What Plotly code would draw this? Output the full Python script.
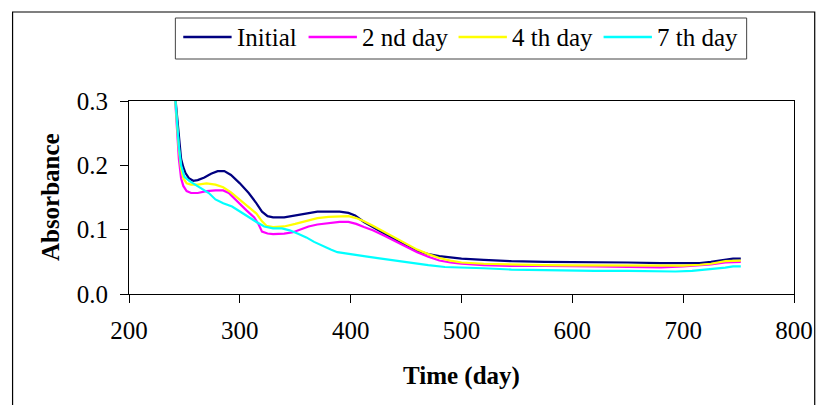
import plotly.graph_objects as go

# ---- data ----
series_names = ["Initial", "2 nd day", "4 th day", "7 th day"]
series_colors = ["#000080", "#FF00FF", "#FFFF00", "#00FFFF"]

initial_x = [241, 243, 245, 247, 249, 251, 254, 258, 262, 268, 274, 280, 286, 292, 300, 308, 315, 320, 325, 330,
             340, 350, 360, 370, 380, 390, 398, 404, 412, 420, 430, 440, 450, 460, 470, 480, 490, 500, 520, 545,
             575, 600, 620, 650, 680, 700, 715, 725, 738, 745, 752]
initial_y = [0.32, 0.28, 0.24, 0.21, 0.197, 0.188, 0.180, 0.176, 0.177, 0.181, 0.187, 0.191, 0.191, 0.185, 0.172,
             0.157, 0.141, 0.128, 0.121, 0.119, 0.119, 0.122, 0.125, 0.128, 0.128, 0.128, 0.126, 0.122, 0.112,
             0.104, 0.094, 0.084, 0.075, 0.067, 0.062, 0.059, 0.057, 0.055, 0.053, 0.051, 0.050, 0.050, 0.0495,
             0.049, 0.048, 0.0475, 0.048, 0.050, 0.054, 0.055, 0.055]

day2_x = [241, 243, 245, 247, 249, 252, 256, 262, 270, 278, 285, 290, 298, 306, 313, 317, 320, 325, 330, 340,
          348, 355, 362, 370, 380, 390, 398, 405, 412, 420, 430, 440, 450, 460, 470, 480, 490, 500, 520, 545,
          575, 600, 620, 650, 680, 700, 715, 725, 738, 745, 752]
day2_y = [0.32, 0.26, 0.21, 0.18, 0.168, 0.160, 0.157, 0.157, 0.160, 0.161, 0.161, 0.157, 0.143, 0.130, 0.119,
          0.108, 0.097, 0.094, 0.093, 0.094, 0.096, 0.100, 0.105, 0.108, 0.110, 0.112, 0.112, 0.109, 0.104,
          0.099, 0.091, 0.082, 0.073, 0.065, 0.058, 0.052, 0.049, 0.047, 0.045, 0.0435, 0.0435, 0.0435, 0.043,
          0.042, 0.0415, 0.043, 0.0445, 0.046, 0.049, 0.050, 0.050]

day4_x = [241, 243, 245, 247, 249, 252, 256, 262, 270, 278, 285, 292, 300, 308, 315, 320, 324, 330, 340, 350,
          360, 370, 380, 390, 398, 405, 412, 420, 430, 440, 450, 460, 470, 480, 490, 500, 520, 545, 575, 600,
          620, 650, 680, 700, 715, 725, 738, 745, 752]
day4_y = [0.32, 0.27, 0.225, 0.195, 0.180, 0.172, 0.170, 0.170, 0.172, 0.170, 0.166, 0.158, 0.147, 0.136, 0.125,
          0.113, 0.106, 0.104, 0.105, 0.109, 0.114, 0.118, 0.120, 0.121, 0.121, 0.118, 0.113, 0.106, 0.097,
          0.087, 0.078, 0.069, 0.062, 0.056, 0.052, 0.049, 0.047, 0.0456, 0.045, 0.0446, 0.0446, 0.0443, 0.044,
          0.044, 0.0455, 0.047, 0.051, 0.052, 0.052]

day7_x = [241, 243, 245, 247, 250, 255, 260, 266, 272, 278, 285, 293, 300, 308, 315, 322, 330, 338, 345, 352,
          360, 367, 375, 382, 388, 395, 405, 415, 426, 440, 456, 470, 485, 500, 520, 545, 575, 600, 620, 650,
          680, 693, 708, 723, 738, 745, 752]
day7_y = [0.32, 0.27, 0.23, 0.20, 0.182, 0.175, 0.170, 0.164, 0.157, 0.147, 0.141, 0.136, 0.128, 0.120, 0.112,
          0.105, 0.102, 0.102, 0.099, 0.094, 0.088, 0.081, 0.074, 0.069, 0.065, 0.063, 0.061, 0.058, 0.0555,
          0.052, 0.048, 0.045, 0.042, 0.0415, 0.040, 0.038, 0.037, 0.0365, 0.036, 0.036, 0.0355, 0.035, 0.036,
          0.038, 0.041, 0.043, 0.043]

x_ticks = [200, 300, 400, 500, 600, 700, 800]
y_ticks = [0.0, 0.1, 0.2, 0.3]
x_title = "Time (day)"
y_title = "Absorbance"

FONT = "Liberation Serif, Times New Roman, serif"
FS = 25

# The HTML page body has an 8px default margin, so the figure is made
# 16px smaller and all reference pixel positions are shifted by 8px.
OFF = 8
WIN_W, WIN_H = 833, 413
W, H = WIN_W - 2 * OFF, WIN_H - 2 * OFF

# Plot area box in window pixels: x 129..803, y 101..294
L, R, T, B = 129 - OFF, 803 - OFF, 101 - OFF, 294 - OFF
pw, ph = R - L, B - T


def px_x(p):
    return (p - OFF - L) / pw


def px_y(p):
    return (B - (p - OFF)) / ph


fig = go.Figure()
for name, color, xs, ys in zip(series_names, series_colors,
                               [initial_x, day2_x, day4_x, day7_x],
                               [initial_y, day2_y, day4_y, day7_y]):
    fig.add_trace(go.Scatter(x=xs, y=ys, mode="lines", name=name,
                             line=dict(color=color, width=2.2), showlegend=False))

fig.update_layout(
    width=W, height=H,
    margin=dict(l=L, r=W - R, t=T, b=H - B, pad=0),
    paper_bgcolor="white", plot_bgcolor="white",
    font=dict(family=FONT, size=FS, color="black"),
    showlegend=False,
)

fig.update_xaxes(range=[200, 800], tickvals=x_ticks, ticktext=[str(v) for v in x_ticks],
                 showgrid=False, zeroline=False, showline=True, linecolor="black", linewidth=1,
                 mirror=True, ticks="outside", ticklen=8, tickcolor="black",
                 tickfont=dict(family=FONT, size=FS), ticklabelstandoff=6)
fig.update_yaxes(range=[0, 0.3], tickvals=y_ticks, ticktext=["%.1f" % v for v in y_ticks],
                 showgrid=False, zeroline=False, showline=True, linecolor="black", linewidth=1,
                 mirror=True, ticks="outside", ticklen=8, tickcolor="black",
                 tickfont=dict(family=FONT, size=FS), ticklabelstandoff=7)

# Axis titles
fig.add_annotation(text="<b>%s</b>" % x_title, xref="paper", yref="paper",
                   x=0.5, y=px_y(376), xanchor="center", yanchor="middle",
                   showarrow=False, font=dict(family=FONT, size=FS, color="black"))
fig.add_annotation(text="<b>%s</b>" % y_title, xref="paper", yref="paper",
                   x=px_x(49), y=px_y(197), xanchor="center", yanchor="middle",
                   textangle=-90, showarrow=False, font=dict(family=FONT, size=FS, color="black"))

# Legend (drawn as a boxed row of line samples + labels, Excel style)
legend_line_start = [184, 311, 463, 610]
legend_line_len = 49
legend_y = 37
fig.add_shape(type="rect", xref="paper", yref="paper",
              x0=px_x(176), x1=px_x(755), y0=px_y(59), y1=px_y(18),
              line=dict(color="#444444", width=1), fillcolor="white")
for name, color, x0 in zip(series_names, series_colors, legend_line_start):
    fig.add_shape(type="line", xref="paper", yref="paper",
                  x0=px_x(x0), x1=px_x(x0 + legend_line_len), y0=px_y(legend_y), y1=px_y(legend_y),
                  line=dict(color=color, width=2.5))
    fig.add_annotation(text=name, xref="paper", yref="paper",
                       x=px_x(x0 + legend_line_len + 3), y=px_y(legend_y + 1),
                       xanchor="left", yanchor="middle", showarrow=False,
                       font=dict(family=FONT, size=FS, color="black"))

# Outer chart border
fig.add_shape(type="rect", xref="paper", yref="paper",
              x0=px_x(11), x1=px_x(824), y0=px_y(430), y1=px_y(12),
              line=dict(color="black", width=1.2), fillcolor="rgba(0,0,0,0)", layer="below")

fig.write_html("out.html")
